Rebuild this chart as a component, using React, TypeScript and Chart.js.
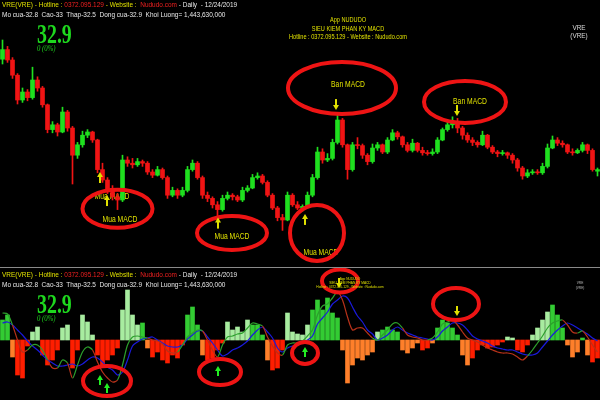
import React, { useEffect, useRef } from 'react';
import { Chart, registerables } from 'chart.js';

Chart.register(...registerables);

// ---------- DATA (daily sessions, VRE 2019) ----------
const opens = [
  39.8, 40.4, 39.75, 38.8, 37.25, 37.75, 37.4, 38.5, 38.0, 36.95,
  35.4, 35.7, 35.25, 36.5, 35.5, 33.8, 34.45, 35.05, 35.25, 34.75,
  32.9, 32.25, 31.6, 31.2, 31.0, 33.5, 33.3, 33.2, 33.4, 33.3,
  32.75, 32.55, 32.9, 32.4, 31.3, 31.6, 31.3, 31.6, 32.9, 33.3,
  32.4, 31.3, 31.1, 30.7, 30.4, 31.1, 31.3, 31.2, 31.0, 31.6,
  31.75, 32.4, 32.5, 32.1, 31.3, 30.5, 29.9, 29.75, 31.3, 30.7,
  30.5, 30.6, 31.3, 32.4, 34.0, 33.5, 33.6, 34.6, 36.0, 34.45,
  32.9, 34.45, 34.4, 33.8, 33.4, 34.25, 34.45, 34.0, 34.75, 35.2,
  34.95, 34.45, 34.1, 34.55, 34.1, 33.95, 33.9, 34.0, 34.75, 35.4,
  35.7, 35.9, 35.5, 35.05, 34.75, 34.6, 34.45, 35.05, 34.3, 34.0,
  33.9, 33.95, 33.8, 33.5, 33.0, 32.5, 32.7, 32.75, 32.7, 33.1,
  34.25, 34.75, 34.55, 34.45, 34.0, 33.95, 34.1, 34.45, 34.1, 32.8,
];
const highs = [
  41.0, 40.6, 39.9, 38.9, 38.0, 37.9, 39.3, 38.7, 38.1, 37.0,
  35.9, 35.8, 36.8, 36.6, 35.6, 34.6, 35.3, 35.4, 35.3, 34.8,
  33.3, 32.4, 31.9, 31.4, 33.8, 33.7, 33.6, 33.6, 33.5, 33.4,
  32.9, 33.1, 33.0, 32.5, 31.8, 31.7, 31.8, 33.1, 33.5, 33.4,
  32.5, 31.5, 31.2, 30.9, 31.3, 31.5, 31.4, 31.3, 31.8, 31.9,
  32.6, 32.7, 32.6, 32.2, 31.4, 30.6, 30.1, 31.5, 31.4, 30.9,
  30.7, 31.5, 32.6, 34.3, 34.2, 33.9, 34.8, 36.3, 36.1, 34.5,
  34.6, 34.9, 34.5, 33.9, 34.5, 34.6, 34.5, 34.9, 35.4, 35.3,
  35.0, 34.6, 34.8, 34.6, 34.3, 34.1, 34.2, 34.9, 35.5, 35.9,
  36.2, 36.1, 35.6, 35.2, 34.9, 34.7, 35.3, 35.1, 34.4, 34.1,
  34.1, 34.0, 33.9, 33.6, 33.1, 32.9, 32.9, 32.9, 33.3, 34.5,
  35.0, 34.9, 34.7, 34.5, 34.2, 34.2, 34.6, 34.5, 34.2, 33.0,
];
const lows = [
  39.5, 39.6, 38.6, 37.0, 37.1, 37.2, 37.3, 37.8, 36.8, 35.2,
  35.2, 35.0, 35.2, 35.3, 32.0, 33.6, 34.3, 34.9, 34.6, 32.7,
  32.1, 31.4, 31.0, 30.4, 30.9, 33.1, 33.0, 33.1, 33.1, 32.6,
  32.4, 32.5, 32.3, 31.1, 31.2, 31.1, 31.2, 31.5, 32.8, 32.3,
  31.1, 30.9, 30.5, 29.9, 30.3, 31.0, 31.0, 30.9, 30.9, 31.5,
  31.7, 32.3, 32.0, 31.2, 30.4, 29.7, 29.1, 29.7, 30.6, 30.4,
  30.3, 30.5, 31.2, 32.3, 33.3, 33.4, 33.5, 34.5, 34.3, 32.3,
  32.8, 34.2, 33.6, 33.2, 33.3, 34.1, 33.9, 33.9, 34.7, 34.8,
  34.3, 34.0, 34.0, 34.0, 33.8, 33.8, 33.8, 33.9, 34.7, 35.3,
  35.5, 35.2, 34.8, 34.6, 34.4, 34.3, 34.4, 34.2, 33.9, 33.7,
  33.8, 33.6, 33.3, 32.8, 32.3, 32.4, 32.6, 32.6, 32.6, 33.0,
  34.2, 34.4, 34.3, 33.9, 33.8, 33.9, 34.0, 33.9, 32.8, 32.5,
];
const closes = [
  40.4, 39.75, 38.8, 37.25, 37.75, 37.4, 38.5, 38.0, 36.95, 35.4,
  35.7, 35.25, 36.5, 35.5, 33.8, 34.45, 35.05, 35.25, 34.75, 32.9,
  32.25, 31.6, 31.2, 31.0, 33.5, 33.3, 33.2, 33.4, 33.3, 32.75,
  32.55, 32.9, 32.4, 31.3, 31.6, 31.3, 31.6, 32.9, 33.3, 32.4,
  31.3, 31.1, 30.7, 30.4, 31.1, 31.3, 31.2, 31.0, 31.6, 31.75,
  32.4, 32.5, 32.1, 31.3, 30.5, 29.9, 29.75, 31.3, 30.7, 30.5,
  30.6, 31.3, 32.4, 34.0, 33.5, 33.6, 34.6, 36.0, 34.45, 32.9,
  34.45, 34.4, 33.8, 33.4, 34.25, 34.45, 34.0, 34.75, 35.2, 34.95,
  34.45, 34.1, 34.55, 34.1, 33.95, 33.9, 34.0, 34.75, 35.4, 35.7,
  35.9, 35.5, 35.05, 34.75, 34.6, 34.45, 35.05, 34.3, 34.0, 33.9,
  33.95, 33.8, 33.5, 33.0, 32.5, 32.7, 32.75, 32.7, 33.1, 34.25,
  34.75, 34.55, 34.45, 34.0, 33.95, 34.1, 34.45, 34.1, 32.9, 32.9,
];
const histogram = [
  0.20, 0.25, -0.17, -0.35, -0.38, -0.06, 0.08, 0.13, -0.15, -0.25,
  -0.20, -0.10, 0.12, 0.15, -0.28, -0.10, 0.25, 0.18, 0.05, -0.15,
  -0.27, -0.20, -0.15, -0.08, 0.30, 0.50, 0.25, 0.15, 0.17, -0.08,
  -0.17, -0.12, -0.20, -0.23, -0.15, -0.18, -0.05, 0.25, 0.33, 0.15,
  -0.15, -0.20, -0.18, -0.10, -0.03, 0.18, 0.10, 0.13, 0.08, 0.20,
  0.15, 0.15, 0.05, -0.20, -0.30, -0.28, -0.10, 0.27, 0.08, 0.06,
  0.05, 0.15, 0.30, 0.40, 0.30, 0.42, 0.27, 0.22, -0.10, -0.43,
  -0.25, -0.18, -0.20, -0.15, -0.12, 0.08, 0.10, 0.13, 0.10, 0.08,
  -0.10, -0.13, -0.08, -0.03, -0.10, -0.08, -0.03, 0.12, 0.20, 0.17,
  0.12, 0.05, -0.15, -0.25, -0.18, -0.10, -0.05, -0.08, -0.07, -0.05,
  -0.02, 0.03, 0.02, -0.10, -0.12, -0.05, 0.05, 0.12, 0.20, 0.28,
  0.35, 0.25, 0.12, -0.05, -0.17, -0.12, 0.02, -0.15, -0.22, -0.18,
];
const macdLine = [
  0.27, 0.26, 0.15, 0.00, -0.12, -0.10, -0.05, -0.05, -0.10, -0.20,
  -0.28, -0.28, -0.20, -0.23, -0.38, -0.25, -0.12, -0.07, -0.10, -0.22,
  -0.32, -0.38, -0.42, -0.40, -0.25, -0.05, 0.03, 0.04, 0.03, 0.02,
  0.00, -0.01, -0.04, -0.11, -0.13, -0.12, -0.05, 0.03, 0.07, 0.10,
  0.09, 0.00, -0.10, -0.17, -0.05, 0.03, 0.04, 0.06, 0.07, 0.12,
  0.17, 0.16, 0.14, 0.03, -0.06, -0.13, -0.15, -0.05, -0.03, -0.03,
  -0.01, 0.04, 0.10, 0.25, 0.34, 0.36, 0.42, 0.48, 0.40, 0.23,
  0.10, 0.12, 0.12, 0.07, 0.02, 0.00, 0.05, 0.10, 0.16, 0.17,
  0.12, 0.05, 0.03, 0.02, 0.00, 0.00, 0.02, 0.08, 0.16, 0.18,
  0.20, 0.15, 0.08, 0.02, 0.00, -0.02, -0.05, -0.08, -0.10, -0.12,
  -0.13, -0.13, -0.14, -0.17, -0.20, -0.16, -0.10, -0.03, 0.04, 0.12,
  0.17, 0.19, 0.20, 0.15, 0.08, 0.07, 0.09, 0.03, -0.05, -0.12,
];
const signalLine = [
  0.17, 0.18, 0.15, 0.10, 0.05, -0.01, -0.06, -0.10, -0.15, -0.20,
  -0.23, -0.26, -0.26, -0.25, -0.24, -0.26, -0.24, -0.20, -0.17, -0.18,
  -0.22, -0.27, -0.30, -0.35, -0.32, -0.20, -0.06, -0.02, 0.01, 0.02,
  0.03, 0.00, -0.03, -0.06, -0.07, -0.07, -0.05, 0.01, 0.05, 0.09,
  0.09, 0.03, -0.03, -0.10, -0.16, -0.14, -0.10, -0.08, -0.05, -0.01,
  0.05, 0.10, 0.13, 0.08, 0.02, -0.08, -0.12, -0.08, -0.06, -0.05,
  -0.03, 0.00, 0.04, 0.16, 0.22, 0.28, 0.36, 0.40, 0.44, 0.42,
  0.33, 0.24, 0.18, 0.10, 0.06, 0.00, 0.02, 0.05, 0.10, 0.13,
  0.10, 0.07, 0.05, 0.03, 0.02, 0.01, 0.00, 0.03, 0.09, 0.13,
  0.17, 0.17, 0.15, 0.10, 0.04, 0.01, -0.01, -0.03, -0.06, -0.08,
  -0.09, -0.10, -0.10, -0.12, -0.14, -0.15, -0.15, -0.13, -0.07, -0.01,
  0.05, 0.10, 0.14, 0.17, 0.15, 0.12, 0.09, 0.06, 0.02, -0.01,
];
const sessions = closes.map((_, i) => `Phien ${i + 1}`);

// Signal marks (session index, value)
const priceRings = [
  { i: 23, v: 30.45 },
  { i: 45.9, v: 28.94 },
  { i: 62.9, v: 28.94 },
  { i: 67.9, v: 38.0 },
  { i: 92.5, v: 37.13 },
];
const priceLabels = [
  { i: 21.9, v: 31.19, text: 'Mua MACD', behind: true },
  { i: 23.5, v: 29.8, text: 'Mua MACD' },
  { i: 45.9, v: 28.69, text: 'Mua MACD' },
  { i: 63.7, v: 27.7, text: 'Mua MACD' },
  { i: 69.1, v: 38.19, text: 'Ban MACD' },
  { i: 93.5, v: 37.13, text: 'Ban MACD' },
];
const priceArrows = [
  { i: 19.5, v: 32.75, dir: 'up' },
  { i: 20.9, v: 31.31, dir: 'up' },
  { i: 43.1, v: 29.9, dir: 'up' },
  { i: 60.5, v: 30.13, dir: 'up' },
  { i: 66.7, v: 36.62, dir: 'down' },
  { i: 90.9, v: 36.25, dir: 'down' },
];
const macdRings = [
  { i: 20.9, v: -0.41 },
  { i: 43.5, v: -0.32 },
  { i: 60.5, v: -0.13 },
  { i: 67.5, v: 0.59 },
  { i: 90.7, v: 0.36 },
];
const macdArrows = [
  { i: 19.5, v: -0.35, dir: 'up', kind: 'buy' },
  { i: 20.9, v: -0.43, dir: 'up', kind: 'buy' },
  { i: 43.1, v: -0.26, dir: 'up', kind: 'buy' },
  { i: 60.5, v: -0.07, dir: 'up', kind: 'buy' },
  { i: 67.3, v: 0.52, dir: 'down', kind: 'sell' },
  { i: 90.9, v: 0.24, dir: 'down', kind: 'sell' },
];

// ---------- STYLE ----------
const UP = '#1fe01f';
const DOWN = '#f01414';
const YELLOW = '#e0e000';
const RING = '#ee1414';
const SANS = '"Liberation Sans", Arial, sans-serif';
const SERIF = '"Liberation Serif", "Times New Roman", serif';

const priceRingSize = [[35, 19], [35, 17], [27, 28], [54, 26], [41, 21]];
const macdRingSize = [[24, 15], [21, 13], [13, 11], [18, 11.5], [23, 16]];

function drawArrow(ctx: CanvasRenderingContext2D, x: number, tipY: number, dir: string, color: string, len: number) {
  const s = dir === 'up' ? 1 : -1;
  ctx.fillStyle = color;
  ctx.beginPath();
  ctx.moveTo(x, tipY);
  ctx.lineTo(x - 3, tipY + s * 5);
  ctx.lineTo(x + 3, tipY + s * 5);
  ctx.closePath();
  ctx.fill();
  const a = tipY + s * 4;
  const b = tipY + s * len;
  ctx.fillRect(x - 1, Math.min(a, b), 2, Math.abs(b - a));
}

function makeOverlay(rings: any[], sizes: number[][], labels: any[], arrows: any[], arrowLen: number) {
  const paint = (chart: any, behind: boolean) => {
    const { ctx, scales } = chart;
    const X = (i: number) => scales.x.getPixelForValue(i);
    const Y = (v: number) => scales.y.getPixelForValue(v);
    ctx.save();
    labels.filter((l) => !!l.behind === behind).forEach((l) => {
      ctx.save();
      ctx.translate(X(l.i), Y(l.v));
      ctx.scale(0.75, 1);
      ctx.font = `9px ${SANS}`;
      ctx.fillStyle = YELLOW;
      ctx.textAlign = 'center';
      ctx.textBaseline = 'middle';
      ctx.fillText(l.text, 0, 0);
      ctx.restore();
    });
    if (!behind) {
      rings.forEach((r, k) => {
        ctx.beginPath();
        ctx.ellipse(X(r.i), Y(r.v), sizes[k][0], sizes[k][1], 0, 0, Math.PI * 2);
        ctx.lineWidth = 4;
        ctx.strokeStyle = RING;
        ctx.stroke();
      });
      arrows.forEach((a) => {
        const color = a.kind === 'buy' ? '#22ee22' : YELLOW;
        drawArrow(ctx, X(a.i), Y(a.v), a.dir, color, arrowLen);
      });
    }
    ctx.restore();
  };
  return {
    id: 'signals',
    beforeDatasetsDraw(chart: any) { paint(chart, true); },
    afterDatasetsDraw(chart: any) { paint(chart, false); },
  };
}

function Txt(props: any) {
  const { x, y, size, color, family = SANS, sx = 0.81, center, italic, bold, children } = props;
  return (
    <div
      style={{
        position: 'absolute',
        left: x,
        top: y,
        fontSize: size,
        lineHeight: 1,
        color,
        fontFamily: family,
        fontStyle: italic ? 'italic' : 'normal',
        fontWeight: bold ? 'bold' : 'normal',
        whiteSpace: 'pre',
        transform: center ? `translateX(-50%) scaleX(${sx})` : `scaleX(${sx})`,
        transformOrigin: center ? 'center' : 'left',
      }}
    >
      {children}
    </div>
  );
}

function Header({ top }: { top: number }) {
  return (
    <>
      <Txt x={2} y={top + 1} size={8} color={YELLOW}>
        VRE(VRE) - Hotline : <span style={{ color: '#f02020' }}>0372.095.129</span> - Website :{' '}
        <span style={{ color: '#f02020' }}> Nududo.com</span>
        <span style={{ color: '#e8e8e8' }}> - Daily  - 12/24/2019</span>
      </Txt>
      <Txt x={2} y={top + 11} size={8} color="#e8e8e8">
        Mo cua-32.8  Cao-33  Thap-32.5  Dong cua-32.9  Khoi Luong= 1,443,630,000
      </Txt>
      <Txt x={37} y={top + 20} size={28} color="#1ed81e" family={SERIF} sx={0.71} bold>
        32.9
      </Txt>
      <Txt x={37} y={top + 44} size={9} color="#1ed81e" family={SERIF} sx={0.75} italic>
        0 (0%)
      </Txt>
    </>
  );
}

export default function App() {
  const priceRef = useRef<HTMLCanvasElement>(null);
  const macdRef = useRef<HTMLCanvasElement>(null);

  useEffect(() => {
    document.body.style.margin = '0';
    document.body.style.background = '#000';
    const candleColors = closes.map((c, i) => (c >= opens[i] ? UP : DOWN));
    const common: any = {
      responsive: false,
      animation: false,
      events: [],
      layout: { padding: 0 },
      plugins: { legend: { display: false }, tooltip: { enabled: false } },
    };
    const price = new Chart(priceRef.current!, {
      type: 'bar',
      data: {
        labels: sessions,
        datasets: [
          {
            label: 'Than nen',
            data: opens.map((o, i) => [o, closes[i]]) as any,
            backgroundColor: candleColors,
            barThickness: 4,
            grouped: false,
            minBarLength: 1,
            order: 1,
          },
          {
            label: 'Bong nen',
            data: lows.map((l, i) => [l, highs[i]]) as any,
            backgroundColor: candleColors,
            barThickness: 1,
            grouped: false,
            order: 2,
          },
        ],
      },
      options: {
        ...common,
        scales: {
          x: { display: false },
          y: { display: false, min: 26.8125, max: 43.5 },
        },
      },
      plugins: [makeOverlay(priceRings, priceRingSize, priceLabels, priceArrows, 11)],
    });

    const histColors = histogram.map((h, i) =>
      h >= 0 ? (signalLine[i] > 0 ? '#33cc33' : '#a8eca0') : macdLine[i] > 0 ? '#ff7f2a' : '#ff1e00'
    );
    const macd = new Chart(macdRef.current!, {
      type: 'bar',
      data: {
        labels: sessions,
        datasets: [
          {
            type: 'line',
            label: 'MACD',
            data: macdLine,
            borderWidth: 1.2,
            pointRadius: 0,
            tension: 0.3,
            borderColor: '#2ca02c',
            segment: {
              borderColor: (c: any) =>
                macdLine[c.p1DataIndex] >= signalLine[c.p1DataIndex] ? '#2ca02c' : '#b8321a',
            },
            order: 1,
          } as any,
          {
            type: 'line',
            label: 'Signal',
            data: signalLine,
            borderWidth: 1.2,
            pointRadius: 0,
            tension: 0.3,
            borderColor: '#1a1adc',
            order: 2,
          } as any,
          {
            type: 'bar',
            label: 'Histogram',
            data: histogram,
            backgroundColor: histColors,
            barThickness: 4,
            grouped: false,
            order: 3,
          },
        ],
      },
      options: {
        ...common,
        scales: {
          x: { display: false },
          y: { display: false, min: -0.6, max: 0.72 },
        },
      },
      plugins: [makeOverlay(macdRings, macdRingSize, [], macdArrows, 10)],
    });

    return () => {
      price.destroy();
      macd.destroy();
    };
  }, []);

  return (
    <div style={{ position: 'relative', width: 600, height: 400, background: '#000', overflow: 'hidden' }}>
      <canvas ref={priceRef} width={600} height={267} style={{ position: 'absolute', left: 0, top: 0 }} />
      <div style={{ position: 'absolute', left: 0, top: 267, width: 600, height: 1, background: '#8a8a8a' }} />
      <canvas ref={macdRef} width={600} height={132} style={{ position: 'absolute', left: 0, top: 268 }} />

      <Header top={0} />
      <Txt x={348} y={16} size={8} color={YELLOW} sx={0.7} center>App NUDUDO</Txt>
      <Txt x={348} y={25} size={8} color={YELLOW} sx={0.7} center>SIEU KIEM PHAN KY MACD</Txt>
      <Txt x={348} y={33} size={8} color={YELLOW} sx={0.7} center>Hotline : 0372.095.129 - Website : Nududo.com</Txt>
      <Txt x={579} y={24} size={8} color="#dddddd" sx={0.8} center>VRE</Txt>
      <Txt x={579} y={32} size={8} color="#dddddd" sx={0.8} center>(VRE)</Txt>

      <Header top={270} />
      <Txt x={350} y={277} size={4} color={YELLOW} sx={0.8} center>App NUDUDO</Txt>
      <Txt x={350} y={281} size={4} color={YELLOW} sx={0.8} center>SIEU KIEM PHAN KY MACD</Txt>
      <Txt x={350} y={285} size={4} color={YELLOW} sx={0.8} center>Hotline : 0372.095.129 - Website : Nududo.com</Txt>
      <Txt x={580} y={281} size={4} color="#bbbbbb" sx={0.8} center>VRE</Txt>
      <Txt x={580} y={286} size={4} color="#bbbbbb" sx={0.8} center>(VRE)</Txt>
    </div>
  );
}
